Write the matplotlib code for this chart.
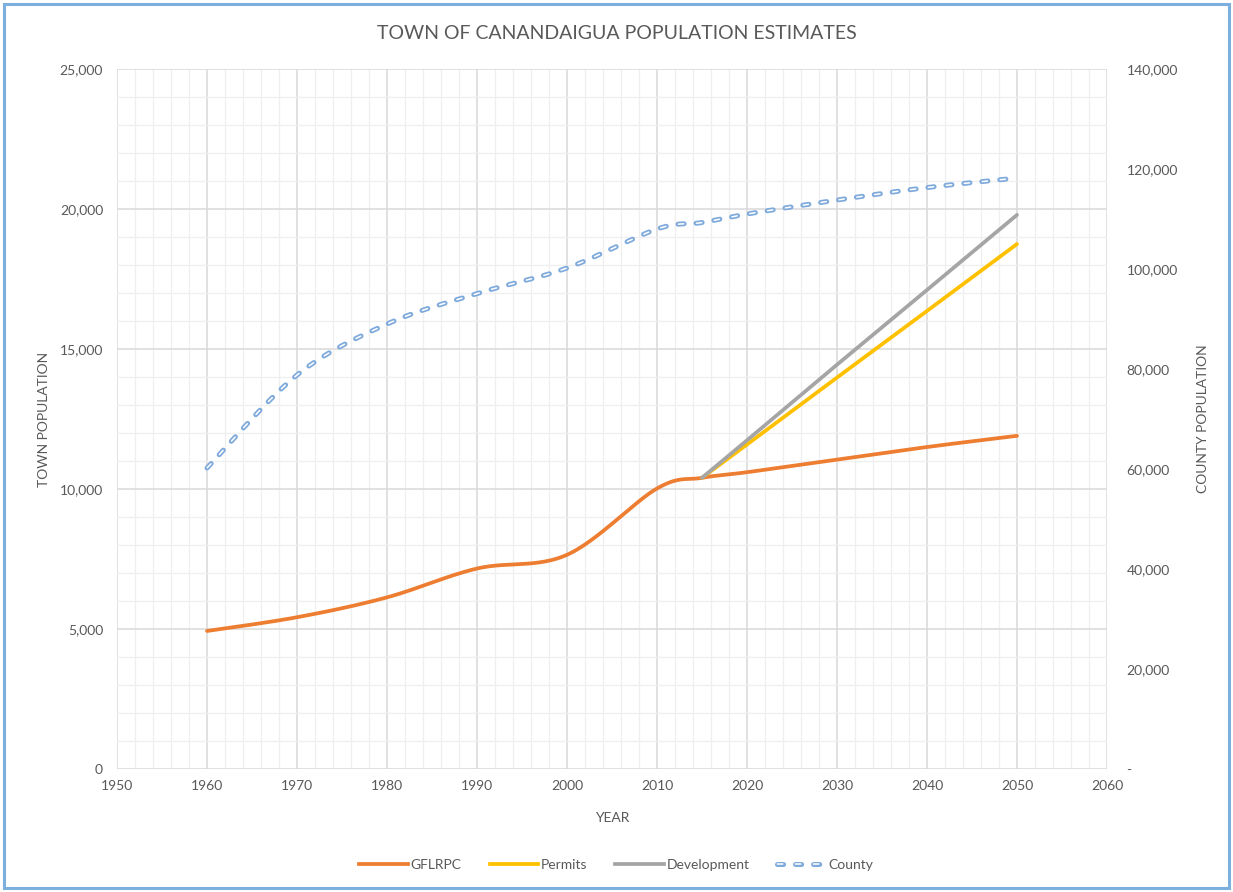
import numpy as np
import matplotlib
matplotlib.use("Agg")
import matplotlib.pyplot as plt
from matplotlib.patches import Rectangle
from matplotlib.lines import Line2D
from matplotlib.legend_handler import HandlerTuple
from matplotlib.ticker import FuncFormatter, MultipleLocator

plt.rcParams['font.family'] = ['Lato', 'DejaVu Sans']
plt.rcParams['lines.scale_dashes'] = False

# town population, GFLRPC estimate
gflrpc_years = [1960, 1970, 1980, 1990, 2000, 2010, 2015, 2020, 2030, 2040, 2050]
gflrpc_pop = [4930, 5420, 6130, 7160, 7650, 10020, 10400, 10600, 11050, 11500, 11900]

# build-out scenarios from 2015
permits_years = [2015, 2020, 2030, 2040, 2050]
permits_pop = [10400, 11590, 13980, 16360, 18750]
dev_years = [2015, 2020, 2030, 2040, 2050]
dev_pop = [10400, 11740, 14440, 17110, 19790]

# county population (right axis)
county_years = [1960, 1970, 1980, 1990, 2000, 2010, 2015, 2020, 2030, 2040, 2050]
county_pop = [60200, 78800, 89000, 95100, 100200, 108000, 109300, 111000, 113800, 116300, 118200]

GREY_TXT = '#595959'
COUNTY_OUT = dict(color='#7FAADC', lw=3.6, linestyle=(0, (4.4, 8.6)), dash_capstyle='round')
COUNTY_IN = dict(color='white', lw=1.1, linestyle=(12.75, (3.9, 9.1)), dash_capstyle='round')


def smooth(xs, ys, n=30):
    # Excel style smoothed line: bezier segments, control points at 1/6 of neighbours
    pts = np.column_stack([xs, ys]).astype(float)
    out = []
    for i in range(len(pts) - 1):
        p0 = pts[max(i - 1, 0)]
        p1 = pts[i]
        p2 = pts[i + 1]
        p3 = pts[min(i + 2, len(pts) - 1)]
        c1 = p1 + (p2 - p0) / 6.0
        c2 = p2 - (p3 - p1) / 6.0
        t = np.linspace(0, 1, n)[:, None]
        seg = ((1 - t) ** 3) * p1 + 3 * ((1 - t) ** 2) * t * c1 + 3 * (1 - t) * t ** 2 * c2 + t ** 3 * p2
        out.append(seg if i == 0 else seg[1:])
    out = np.vstack(out)
    return out[:, 0], out[:, 1]


fig = plt.figure(figsize=(12.33, 8.92), dpi=100)
ax = fig.add_axes([0.0949, 0.1379, 0.8029, 0.7847])
ax2 = ax.twinx()

ax.set_xlim(1950, 2060)
ax.set_ylim(0, 25000)
ax2.set_ylim(0, 140000)

ax.xaxis.set_major_locator(MultipleLocator(10))
ax.xaxis.set_minor_locator(MultipleLocator(2))
ax.yaxis.set_major_locator(MultipleLocator(5000))
ax.yaxis.set_minor_locator(MultipleLocator(1000))
ax2.yaxis.set_major_locator(MultipleLocator(20000))

ax.grid(which='major', color='#D9D9D9', linewidth=1.1)
ax.grid(which='minor', color='#EFEFEF', linewidth=0.9)
ax.set_axisbelow(True)

for a in (ax, ax2):
    for s in a.spines.values():
        s.set_visible(False)
    a.tick_params(which='both', length=0, colors=GREY_TXT, labelsize=10)
ax.tick_params(axis='x', pad=8)
ax.tick_params(axis='y', pad=10)
ax2.tick_params(axis='y', pad=14)

ax.yaxis.set_major_formatter(FuncFormatter(lambda v, p: f'{int(v):,}'))
ax2.yaxis.set_major_formatter(FuncFormatter(lambda v, p: '-' if v == 0 else f'{int(v):,}'))

# lines
gx, gy = smooth(gflrpc_years, gflrpc_pop)
ax.plot(gx, gy, color='#ED7D31', lw=2.7, solid_capstyle='round', zorder=3)
ax.plot(permits_years, permits_pop, color='#FFC000', lw=2.7, solid_capstyle='round', zorder=4)
ax.plot(dev_years, dev_pop, color='#A5A5A5', lw=2.7, solid_capstyle='round', zorder=4)

cx, cy = smooth(county_years, county_pop)
ax2.plot(cx, cy, zorder=3, **COUNTY_OUT)
ax2.plot(cx, cy, zorder=4, **COUNTY_IN)

ax.set_xlabel('YEAR', color=GREY_TXT, fontsize=10, labelpad=14)
ax.set_ylabel('TOWN POPULATION', color=GREY_TXT, fontsize=10, labelpad=7)
ax2.set_ylabel('COUNTY POPULATION', color=GREY_TXT, fontsize=10, labelpad=14)

fig.text(0.5, 0.962, 'TOWN OF CANANDAIGUA POPULATION ESTIMATES', ha='center', va='center',
         color=GREY_TXT, fontsize=14)

# legend
handles = [
    Line2D([0], [0], color='#ED7D31', lw=2.7),
    Line2D([0], [0], color='#FFC000', lw=2.7),
    Line2D([0], [0], color='#A5A5A5', lw=2.7),
    (Line2D([0], [0], **COUNTY_OUT), Line2D([0], [0], **COUNTY_IN)),
]
leg = fig.legend(handles, ['GFLRPC', 'Permits', 'Development', 'County'], loc='center',
                 bbox_to_anchor=(0.5, 0.03), ncol=4, frameon=False, fontsize=10,
                 handlelength=3.5, handletextpad=0.2, columnspacing=2.0, labelcolor=GREY_TXT,
                 handler_map={tuple: HandlerTuple(ndivide=1, pad=0)})

# outer border
fig.patches.append(Rectangle((0.003, 0.004), 0.994, 0.992, transform=fig.transFigure,
                             fill=False, edgecolor='#7CAFDD', linewidth=2.2))

fig.savefig('out.png', dpi=100)
